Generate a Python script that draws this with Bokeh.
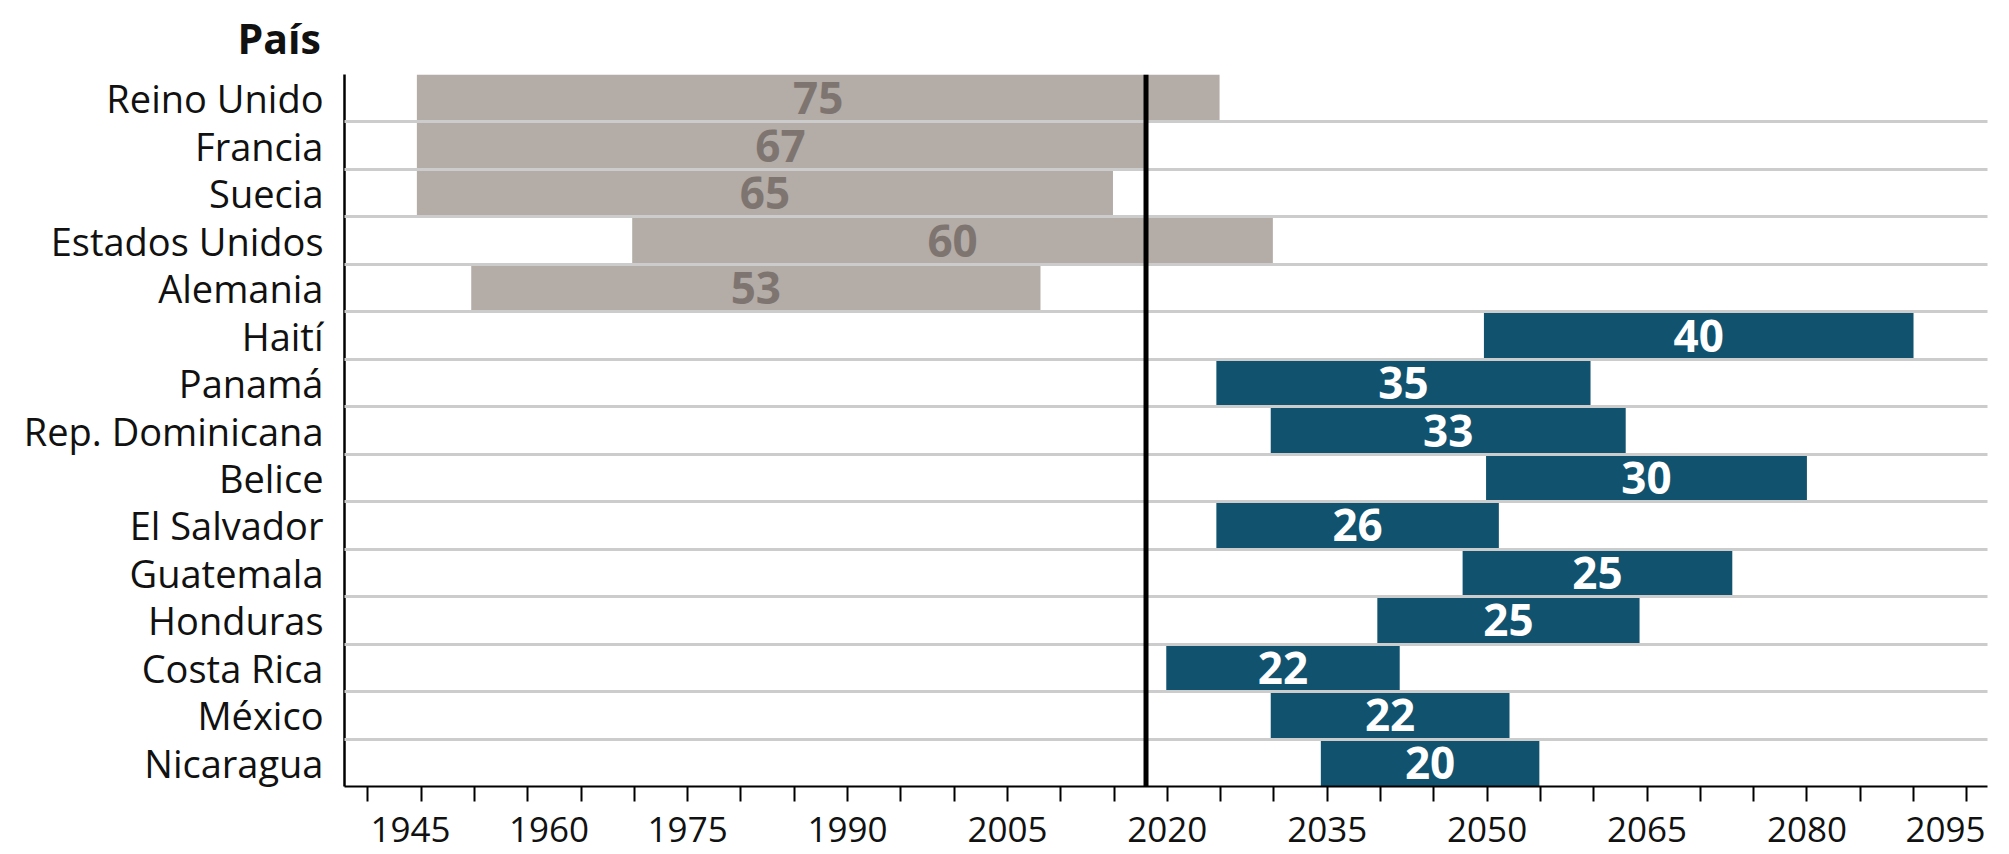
from bokeh.plotting import figure
from bokeh.models import Range1d, FixedTicker, Span, ColumnDataSource, Grid
from bokeh.core.properties import value
from bokeh.embed import file_html
from bokeh.resources import INLINE

# ---------------- data ----------------
COUNTRIES = ["Reino Unido", "Francia", "Suecia", "Estados Unidos", "Alemania",
             "Haití", "Panamá", "Rep. Dominicana", "Belice", "El Salvador",
             "Guatemala", "Honduras", "Costa Rica", "México", "Nicaragua"]
GROUP = ["desarrollado"] * 5 + ["latam"] * 10
START = [1949.6, 1949.6, 1949.6, 1969.8, 1954.7,
         2049.7, 2024.6, 2029.7, 2049.9, 2024.6,
         2047.7, 2039.7, 2019.9, 2029.7, 2034.4]
END = [2024.9, 2017.8, 2014.9, 2029.9, 2008.1,
       2090.0, 2059.7, 2063.0, 2080.0, 2051.1,
       2073.0, 2064.3, 2041.8, 2052.1, 2054.9]
YEARS = [75, 67, 65, 60, 53, 40, 35, 33, 30, 26, 25, 25, 22, 22, 20]
CURRENT_YEAR = 2018
TICK_LABELS = ["1945", "1960", "1975", "1990", "2005", "2020",
               "2035", "2050", "2065", "2080", "2095"]
MINOR_TICKS = list(range(1945, 2096, 5))
TITLE = "País"

# ---------------- styling ----------------
BAR_COLOR = {"desarrollado": "#b4aca7", "latam": "#11536f"}
TXT_COLOR = {"desarrollado": "#7e7571", "latam": "#ffffff"}
FONT = "Open Sans"
# label anchor positions along the axis (as placed in the reference)
TICK_POS = [1949, 1962, 1975, 1990, 2005, 2020, 2035, 2050, 2065, 2080, 2093]

n = len(COUNTRIES)
row_y = [n - 1 - i for i in range(n)]

src = ColumnDataSource(dict(
    y=row_y,
    left=START,
    right=END,
    mid=[(a + b) / 2 for a, b in zip(START, END)],
    label=[str(v) for v in YEARS],
    fill=[BAR_COLOR[g] for g in GROUP],
    tcol=[TXT_COLOR[g] for g in GROUP],
))

p = figure(frame_width=1643, frame_height=712,
           x_range=Range1d(1942.81, 2096.94), y_range=Range1d(-0.5, n - 0.5),
           output_backend="svg", toolbar_location=None,
           min_border_left=344, min_border_top=74, min_border_right=14,
           min_border_bottom=68)
p.outline_line_color = None
p.background_fill_color = "white"
p.border_fill_color = "white"
p.xgrid.visible = False
p.ygrid.visible = False

p.title.text = TITLE
p.title.align = "left"
p.title.vertical_align = "middle"
p.title.offset = -107
p.title.standoff = 16
p.title.text_font = FONT
p.title.text_font_style = "bold"
p.title.text_font_size = "41px"
p.title.text_color = "#111111"

p.hbar(y="y", left="left", right="right", height=1.0, source=src,
       fill_color="fill", line_color=None)

grid = Grid(dimension=1, ticker=FixedTicker(ticks=[k + 0.5 for k in range(n)]),
            grid_line_color="#cccccc", grid_line_width=3, level="guide")
p.add_layout(grid)

p.text(x="mid", y="y", text="label", source=src, text_color="tcol",
       text_align="center", text_baseline="middle",
       text_font=value(FONT), text_font_style="bold", text_font_size="44px")

p.add_layout(Span(location=CURRENT_YEAR, dimension="height",
                  line_color="black", line_width=5))

# x axis
xa = p.xaxis[0]
xa.ticker = FixedTicker(ticks=TICK_POS, minor_ticks=MINOR_TICKS)
xa.major_label_overrides = {pos: lab for pos, lab in zip(TICK_POS, TICK_LABELS)}
xa.major_tick_out = 0
xa.major_tick_in = 0
xa.minor_tick_out = 15
xa.minor_tick_in = 0
xa.minor_tick_line_width = 2
xa.minor_tick_line_color = "black"
xa.axis_line_width = 2
xa.axis_line_color = "black"
xa.major_label_standoff = 15
xa.major_label_text_font = FONT
xa.major_label_text_font_size = "35px"
xa.major_label_text_color = "#111111"

# y axis
ya = p.yaxis[0]
ya.ticker = FixedTicker(ticks=row_y)
ya.major_label_overrides = {y: c for y, c in zip(row_y, COUNTRIES)}
ya.major_tick_out = 0
ya.major_tick_in = 0
ya.minor_tick_out = 0
ya.axis_line_width = 2.5
ya.axis_line_color = "black"
ya.major_label_standoff = 21
ya.major_label_text_font = FONT
ya.major_label_text_font_size = "38px"
ya.major_label_text_color = "#111111"

open("out.html", "w").write(file_html(p, INLINE))
